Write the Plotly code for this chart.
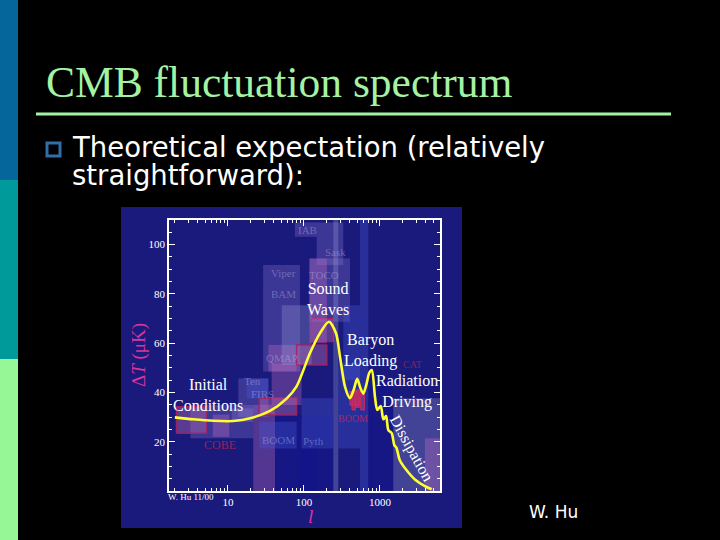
import plotly.graph_objects as go

W, H = 720, 540

# ---------------- data ----------------
ell = [2, 3.5, 6.4, 11.7, 19.6, 35.7, 59, 80, 120, 162, 213, 264, 298, 347, 403,
       450, 502, 550, 603, 660, 724, 780, 859, 922, 1023, 1108, 1202, 1290,
       1426, 1550, 1650, 1820, 2230, 2880, 3900, 4790]
dT = [29.9, 29.1, 28.5, 28.4, 29.5, 32.5, 37.5, 42.5, 56, 64, 68.7, 64, 54.5, 42.3, 37.7,
      41, 45.5, 42, 39.5, 43, 48, 49.1, 38.3, 32.9, 34.5, 29.1, 30.4, 24.7,
      23.5, 18.5, 17.5, 12.6, 8.5, 4.7, 2, 0.7]

# experimental error boxes (l range, dT range, kind)
box_l_lo = [41.6, 702, 1497, 88.5, 3.2, 13.7, 17.6, 21.5, 29, 29, 2.1, 6.3, 11.2,
            25.8, 25.8, 34, 37.6, 51, 80, 118, 147, 76, 126, 118, 243, 546,
            93, 283, 329, 3900, 403, 430, 480, 560]
box_l_hi = [243, 1497, 6160, 147, 21.5, 34, 34, 41.6, 88.5, 88.5, 5.25, 10.4, 21.5,
            80, 80, 80, 93, 126, 200, 403, 329, 329, 243, 200, 283, 702,
            243, 546, 546, 6160, 546, 470, 530, 620]
box_t_lo = [0, 0, 0, 0, 21.4, 30, 37.6, 0, 48.5, 82.9, 23.4, 22.0, 28.1,
            30.8, 17.3, 48.5, 34.9, 51.1, 51.1, 68.7, 91.7, 103.2, 60.7, 60, 0, 0,
            17.3, 17.3, 45, 0, 34.9, 33, 34, 33]
box_t_hi = [30.8, 45.7, 37.6, 17.3, 34.9, 45.7, 45.7, 35, 82.9, 91.7, 34.2, 31.0, 33.5,
            37.6, 28.1, 59.3, 51.8, 75.4, 59.3, 94.4, 103.2, 109, 70, 94.4, 110, 110,
            37.6, 51.8, 75.4, 21.4, 40.3, 40, 41, 39]
box_kind = ["dark", "dark", "gray", "dark", "lav", "lav", "blue", "pink", "lav", "lav",
            "pinkline", "pink", "lav", "pinkline", "blue", "pink", "pink", "gray",
            "pinkline", "lav", "lav", "lav", "pinkline", "pink", "gray", "blue",
            "blue", "blue", "blue", "pink", "red", "red", "red", "red"]

y_ticks = [20, 40, 60, 80, 100]
x_ticks = [10, 100, 1000]
x_minor = [2, 3, 4, 5, 6, 7, 8, 9, 20, 30, 40, 50, 60, 70, 80, 90,
           200, 300, 400, 500, 600, 700, 800, 900, 2000, 3000, 4000, 5000, 6000]
y_minor = [5, 10, 15, 25, 30, 35, 45, 50, 55, 65, 70, 75, 85, 90, 95, 105]

# ---------------- styles ----------------
kind_fill = {
    "dark": "rgba(20,20,140,0.55)",
    "gray": "rgba(160,160,215,0.30)",
    "lav": "rgba(150,130,215,0.28)",
    "blue": "rgba(70,90,215,0.35)",
    "pink": "rgba(190,110,190,0.35)",
    "pinkline": "rgba(190,110,180,0.40)",
    "red": "rgba(200,60,120,0.40)",
}
kind_line = {
    "pinkline": "rgba(170,30,90,0.85)",
    "red": "rgba(210,40,90,0.9)",
}

NAVY = "#1a1a7c"
GREEN = "#a3f3a3"
MAG = "#d8339e"


def px(x):
    return x / W


def py(y):
    return 1 - y / H


fig = go.Figure()

for lo, hi, tlo, thi, k in zip(box_l_lo, box_l_hi, box_t_lo, box_t_hi, box_kind):
    fig.add_trace(go.Scatter(
        x=[lo, hi, hi, lo, lo], y=[tlo, tlo, thi, thi, tlo],
        mode="lines", fill="toself", fillcolor=kind_fill[k],
        line=dict(color=kind_line.get(k, "rgba(0,0,0,0)"), width=1.5 if k in kind_line else 0),
        hoverinfo="skip", showlegend=False))

fig.add_trace(go.Scatter(x=ell, y=dT, mode="lines",
                         line=dict(color="#ffff30", width=2.6, shape="spline", smoothing=0.8),
                         showlegend=False, hoverinfo="skip"))

shapes = [
    # left slide stripe
    dict(type="rect", xref="paper", yref="paper", x0=0, x1=px(18), y0=py(180), y1=py(0),
         fillcolor="#05669b", line_width=0, layer="below"),
    dict(type="rect", xref="paper", yref="paper", x0=0, x1=px(18), y0=py(359), y1=py(180),
         fillcolor="#009a9a", line_width=0, layer="below"),
    dict(type="rect", xref="paper", yref="paper", x0=0, x1=px(18), y0=py(540), y1=py(359),
         fillcolor="#96f796", line_width=0, layer="below"),
    # title rule
    dict(type="line", xref="paper", yref="paper", x0=px(36), x1=px(671), y0=py(114), y1=py(114),
         line=dict(color=GREEN, width=3)),
    # bullet
    dict(type="rect", xref="paper", yref="paper", x0=px(47), x1=px(60), y0=py(156), y1=py(143),
         line=dict(color="#2f6ea6", width=3), fillcolor="black"),
    # chart image background
    dict(type="rect", xref="paper", yref="paper", x0=px(121), x1=px(462), y0=py(528), y1=py(207),
         fillcolor=NAVY, line_width=0, layer="below"),
]

SERIF = "Liberation Serif"
SANS = "DejaVu Sans"

ann = [
    dict(text="CMB fluctuation spectrum", x=px(44), y=py(82), xanchor="left",
         font=dict(family=SERIF, size=43.5, color=GREEN)),
    dict(text="Theoretical expectation (relatively", x=px(70), y=py(147), xanchor="left",
         font=dict(family=SANS, size=27.5, color="white")),
    dict(text="straightforward):", x=px(70), y=py(175), xanchor="left",
         font=dict(family=SANS, size=27.5, color="white")),
    dict(text="W. Hu", x=px(553), y=py(512),
         font=dict(family=SANS, size=17, color="white")),
    # chart labels
    dict(text="Sound<br>Waves", x=px(328), y=py(299), font=dict(family=SERIF, size=16, color="white")),
    dict(text="Baryon<br>Loading", x=px(371), y=py(350), font=dict(family=SERIF, size=16, color="white")),
    dict(text="Radiation<br>Driving", x=px(407), y=py(391), font=dict(family=SERIF, size=16, color="white")),
    dict(text="Initial<br>Conditions", x=px(208), y=py(395), font=dict(family=SERIF, size=16, color="white")),
    dict(text="Dissipation", x=px(411), y=py(448), textangle=61,
         font=dict(family=SERIF, size=16, color="white")),
    dict(text="Δ<i>T</i> (μK)", x=px(139), y=py(355), textangle=-90,
         font=dict(family=SERIF, size=19, color=MAG)),
    dict(text="<i>l</i>", x=px(310), y=py(516), font=dict(family=SERIF, size=19, color=MAG)),
    dict(text="W. Hu 11/00", x=px(191), y=py(497), font=dict(family=SERIF, size=9, color="white")),
]
faint = [("IAB", 307, 230), ("Sask", 335, 252), ("Viper", 283, 273), ("TOCO", 324, 275),
         ("BAM", 283, 294), ("QMAP", 282, 358), ("FIRS", 262, 394), ("Ten", 253, 381),
         ("BOOM", 278, 440), ("Pyth", 313, 441)]
for t, x, y in faint:
    ann.append(dict(text=t, x=px(x), y=py(y), font=dict(family=SERIF, size=11,
                                                        color="rgba(190,190,235,0.40)")))
ann.append(dict(text="COBE", x=px(220), y=py(445), font=dict(family=SERIF, size=12, color="rgba(175,35,85,0.85)")))
ann.append(dict(text="BOOM", x=px(353), y=py(418), font=dict(family=SERIF, size=10, color="rgba(200,40,80,0.8)")))
ann.append(dict(text="CAT", x=px(412), y=py(364), font=dict(family=SERIF, size=10, color="rgba(200,40,80,0.6)")))
for a in ann:
    a.setdefault("xref", "paper")
    a.setdefault("yref", "paper")
    a.setdefault("showarrow", False)
    a.setdefault("xanchor", "center")
    a.setdefault("yanchor", "middle")

axis_common = dict(showline=True, linecolor="white", linewidth=1.5, mirror="ticks",
                   ticks="inside", tickcolor="white", tickwidth=1.2, ticklen=6,
                   showgrid=False, zeroline=False,
                   tickfont=dict(family=SERIF, size=11, color="white"))

fig.update_layout(
    width=W, height=H, margin=dict(l=0, r=0, t=0, b=0),
    paper_bgcolor="black", plot_bgcolor=NAVY,
    shapes=shapes, annotations=ann,
    xaxis=dict(type="log", range=[0.224, 3.79], domain=[px(169), px(440)],
               tickvals=x_ticks, ticktext=[str(v) for v in x_ticks],
               minor=dict(tickvals=x_minor, ticks="inside", ticklen=3, tickcolor="white"),
               **axis_common),
    yaxis=dict(range=[0, 110], domain=[py(491), py(220)],
               tickvals=y_ticks, ticktext=[str(v) for v in y_ticks],
               minor=dict(tickvals=y_minor, ticks="inside", ticklen=3, tickcolor="white"),
               **axis_common),
)

fig.write_html("out.html", config={"responsive": False, "displayModeBar": False},
               post_script="document.body.style.margin='0';document.body.style.overflow='hidden';")
